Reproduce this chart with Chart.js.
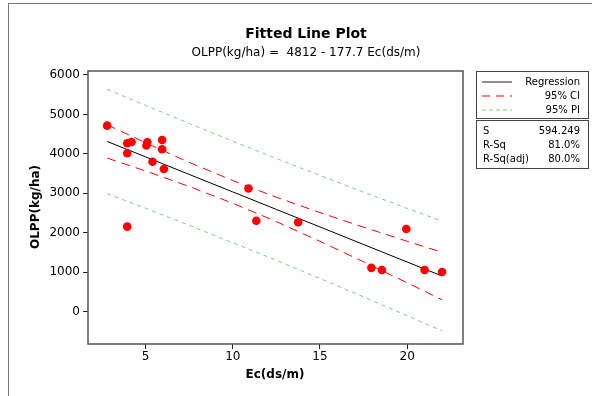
<!DOCTYPE html>
<html>
<head>
<meta charset="utf-8">
<script src="https://cdn.jsdelivr.net/npm/chart.js@4"></script>
<style>
  html, body { margin: 0; padding: 0; background: #fff; }
  #wrap { position: relative; width: 592px; height: 396px; overflow: hidden; font-family: "DejaVu Sans", sans-serif; color: #000; }
  #frame { position: absolute; left: 8px; top: 3px; width: 600px; height: 400px; border-left: 1px solid #777; border-top: 1px solid #777; }
  canvas { position: absolute; left: 0; top: 0; }
  .t { position: absolute; white-space: nowrap; }
  #title { left: 206px; width: 200px; top: 25px; text-align: center; font-weight: bold; font-size: 14px; }
  #sub { left: 156px; width: 300px; top: 45px; text-align: center; font-size: 12px; }
  #ylab { left: 35px; top: 207px; transform: translate(-50%, -50%) rotate(-90deg); font-weight: bold; font-size: 12px; }
  #xlab { left: 275px; top: 374px; transform: translate(-50%, -50%); font-weight: bold; font-size: 12px; }
  .box { position: absolute; left: 476px; width: 111px; border: 1px solid #444; font-size: 10px; }
  #legbox { top: 71px; height: 46px; }
  #statbox { top: 120px; height: 47px; }
  .row { position: absolute; left: 0; width: 100%; height: 13px; line-height: 13px; }
  .sw { position: absolute; left: 5px; top: 6px; }
  .rt { position: absolute; right: 8px; }
  .lt { position: absolute; left: 6px; }
</style>
</head>
<body>
<div id="wrap">
  <div id="frame"></div>
  <canvas id="chart" width="592" height="396"></canvas>
  <div class="t" id="title">Fitted Line Plot</div>
  <div class="t" id="sub">OLPP(kg/ha) =&nbsp; 4812 - 177.7 Ec(ds/m)</div>
  <div class="t" id="ylab">OLPP(kg/ha)</div>
  <div class="t" id="xlab">Ec(ds/m)</div>
  <div class="box" id="legbox">
    <div class="row" style="top:3px"><svg class="sw" width="32" height="2"><line x1="0" y1="1" x2="30" y2="1" stroke="#444" stroke-width="1.2"/></svg><span class="rt">Regression</span></div>
    <div class="row" style="top:17px"><svg class="sw" width="32" height="2"><line x1="0" y1="1" x2="30" y2="1" stroke="#f00" stroke-width="1.2" stroke-dasharray="8,6"/></svg><span class="rt">95% CI</span></div>
    <div class="row" style="top:31px"><svg class="sw" width="32" height="2"><line x1="0" y1="1" x2="30" y2="1" stroke="#77d477" stroke-width="1.2" stroke-dasharray="4,3"/></svg><span class="rt">95% PI</span></div>
  </div>
  <div class="box" id="statbox">
    <div class="row" style="top:3px"><span class="lt">S</span><span class="rt">594.249</span></div>
    <div class="row" style="top:17px"><span class="lt">R-Sq</span><span class="rt">81.0%</span></div>
    <div class="row" style="top:31px"><span class="lt">R-Sq(adj)</span><span class="rt">80.0%</span></div>
  </div>
</div>
<script>
// observed points
const ecValues = [2.8, 3.95, 4.2, 3.95, 5.1, 5.05, 5.95, 5.95, 5.4, 6.05, 3.95, 10.9, 11.35, 13.75, 19.95, 17.95, 18.55, 21.0, 22.0];
const olppValues = [4715, 4270, 4300, 4015, 4295, 4210, 4350, 4115, 3800, 3615, 2155, 3120, 2305, 2265, 2095, 1110, 1055, 1055, 1005];

// fitted line and bands, read at these Ec positions
const bandX = [2.8, 5, 7.5, 10, 12.5, 15, 17.5, 20, 22];
const fitY = [4314, 3924, 3479, 3035, 2591, 2147, 1702, 1258, 903];
const ciUpper = [4736, 4282, 3785, 3323, 2900, 2511, 2141, 1784, 1504];
const ciLower = [3892, 3566, 3173, 2747, 2282, 1783, 1263, 732, 302];
const piUpper = [5637, 5228, 4770, 4321, 3882, 3453, 3030, 2618, 2293];
const piLower = [2991, 2620, 2188, 1749, 1300, 841, 374, -102, -487];

const xTicks = [5, 10, 15, 20];
const yTicks = [0, 1000, 2000, 3000, 4000, 5000, 6000];

const pts = (xs, ys) => xs.map((x, i) => ({ x, y: ys[i] }));

function bandLine(ys, color, dash) {
    return {
        data: pts(bandX, ys),
        showLine: true,
        borderColor: color,
        borderWidth: 1,
        borderDash: dash,
        pointRadius: 0,
        fill: false,
        order: 2
    };
}

const boxPlugin = {
    id: 'box',
    afterDraw(chart) {
        const a = chart.chartArea;
        const c = chart.ctx;
        c.save();
        c.strokeStyle = '#555';
        c.lineWidth = 1.5;
        c.strokeRect(a.left, a.top, a.right - a.left, a.bottom - a.top);
        c.restore();
    }
};

new Chart(document.getElementById('chart'), {
    type: 'scatter',
    data: {
        datasets: [
            {
                data: pts(ecValues, olppValues),
                backgroundColor: '#ff0000',
                borderColor: '#ff0000',
                pointRadius: 4.3,
                pointBorderWidth: 0,
                order: 0
            },
            Object.assign(bandLine(fitY, '#000000', []), { order: 1 }),
            bandLine(ciUpper, '#ff0000', [9, 6]),
            bandLine(ciLower, '#ff0000', [9, 6]),
            bandLine(piUpper, '#77d477', [4, 4]),
            bandLine(piLower, '#77d477', [4, 4])
        ]
    },
    options: {
        responsive: false,
        animation: false,
        layout: { padding: { left: 0, right: 129, top: 71, bottom: 32 } },
        scales: {
            x: {
                type: 'linear',
                min: 1.7,
                max: 23.2,
                afterBuildTicks: s => { s.ticks = xTicks.map(v => ({ value: v })); },
                afterFit: s => { s.height = 20; },
                grid: { drawOnChartArea: false, drawTicks: true, tickLength: 5, color: '#222' },
                border: { display: false },
                ticks: { color: '#000', padding: 1, font: { family: 'DejaVu Sans', size: 12 }, callback: v => String(v) }
            },
            y: {
                type: 'linear',
                min: -820,
                max: 6100,
                afterBuildTicks: s => { s.ticks = yTicks.map(v => ({ value: v })); },
                afterFit: s => { s.width = 88; },
                grid: { drawOnChartArea: false, drawTicks: true, tickLength: 5, color: '#222' },
                border: { display: false },
                ticks: { color: '#000', padding: 3, font: { family: 'DejaVu Sans', size: 12 }, callback: v => String(v) }
            }
        },
        plugins: {
            legend: { display: false },
            tooltip: { enabled: false }
        }
    },
    plugins: [boxPlugin]
});
</script>
</body>
</html>
